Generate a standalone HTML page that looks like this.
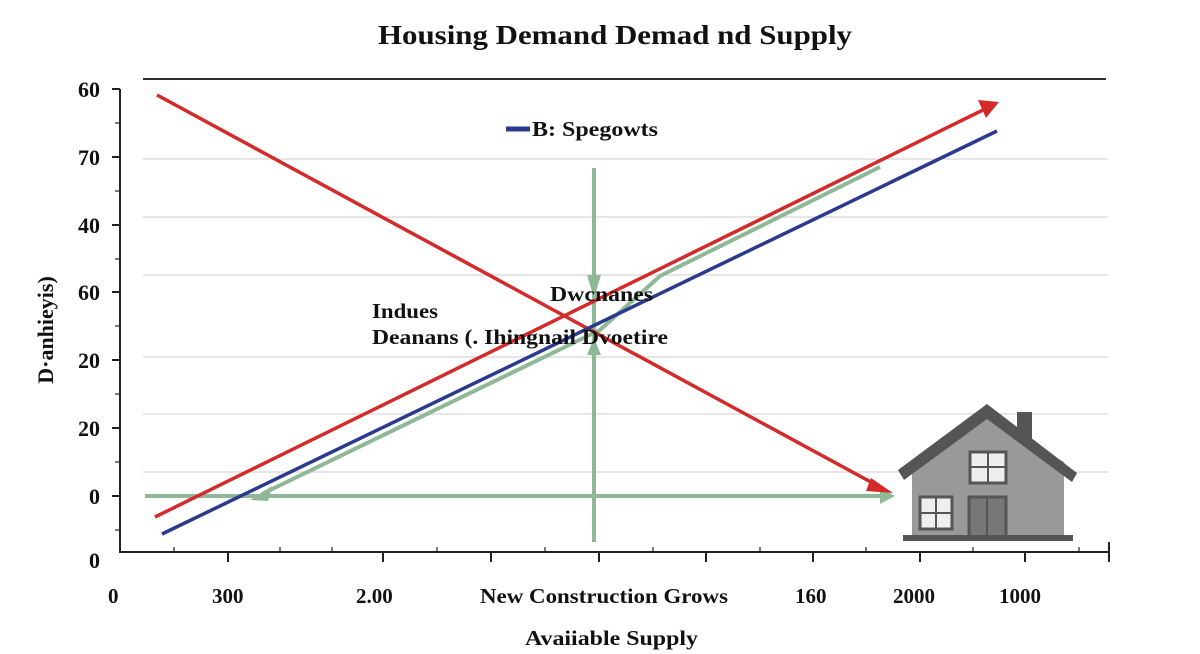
<!DOCTYPE html>
<html><head><meta charset="utf-8"><style>
html,body{margin:0;padding:0;background:#fff;}
svg{display:block;font-family:"Liberation Serif",serif;font-weight:bold;}
</style></head><body>
<svg width="1200" height="654" viewBox="0 0 1200 654" xmlns="http://www.w3.org/2000/svg">
<text x="378" y="44" font-size="27" textLength="474" lengthAdjust="spacingAndGlyphs" fill="#111">Housing Demand  Demad  nd Supply</text>
<line x1="143" y1="79" x2="1106" y2="79" stroke="#333" stroke-width="2"/>
<g stroke="#ddd" stroke-width="1.5">
<line x1="143" y1="159" x2="1108" y2="159"/><line x1="143" y1="217" x2="1108" y2="217"/>
<line x1="143" y1="275" x2="1108" y2="275"/><line x1="143" y1="357" x2="1108" y2="357"/>
<line x1="143" y1="414" x2="1108" y2="414"/><line x1="143" y1="472" x2="1108" y2="472"/>
</g>
<g stroke="#222" stroke-width="2">
<line x1="120" y1="89" x2="120" y2="553"/><line x1="119" y1="552" x2="1110" y2="552"/>
<line x1="112" y1="89" x2="120" y2="89"/><line x1="112" y1="157" x2="120" y2="157"/><line x1="112" y1="225" x2="120" y2="225"/><line x1="112" y1="292" x2="120" y2="292"/><line x1="112" y1="360" x2="120" y2="360"/><line x1="112" y1="428" x2="120" y2="428"/><line x1="112" y1="496" x2="120" y2="496"/>
<line x1="228" y1="552" x2="228" y2="562"/><line x1="383" y1="552" x2="383" y2="562"/><line x1="491" y1="552" x2="491" y2="562"/><line x1="599" y1="552" x2="599" y2="562"/><line x1="706" y1="552" x2="706" y2="562"/><line x1="813" y1="552" x2="813" y2="562"/><line x1="920" y1="552" x2="920" y2="562"/><line x1="1025" y1="552" x2="1025" y2="562"/><line x1="1109" y1="542" x2="1109" y2="562"/>
</g>
<g stroke="#222" stroke-width="1.2">
<line x1="115" y1="123" x2="120" y2="123"/><line x1="115" y1="191" x2="120" y2="191"/><line x1="115" y1="259" x2="120" y2="259"/><line x1="115" y1="326" x2="120" y2="326"/><line x1="115" y1="394" x2="120" y2="394"/><line x1="115" y1="462" x2="120" y2="462"/><line x1="115" y1="530" x2="120" y2="530"/>
<line x1="174" y1="547" x2="174" y2="552"/><line x1="280" y1="547" x2="280" y2="552"/><line x1="332" y1="547" x2="332" y2="552"/><line x1="437" y1="547" x2="437" y2="552"/><line x1="545" y1="547" x2="545" y2="552"/><line x1="653" y1="547" x2="653" y2="552"/><line x1="760" y1="547" x2="760" y2="552"/><line x1="866" y1="547" x2="866" y2="552"/><line x1="973" y1="547" x2="973" y2="552"/><line x1="1079" y1="547" x2="1079" y2="552"/>
</g>
<g font-size="22" text-anchor="end" fill="#111">
<text x="100" y="97">60</text><text x="100" y="165">70</text><text x="100" y="233">40</text><text x="100" y="300">60</text><text x="100" y="368">20</text><text x="100" y="436">20</text><text x="100" y="504">0</text><text x="100" y="568">0</text>
</g>
<text transform="translate(53,330) rotate(-90)" font-size="22" text-anchor="middle" fill="#111">D·anhieyis)</text>
<g font-size="21" fill="#111">
<text x="108" y="603">0</text><text x="212" y="603">300</text><text x="356" y="603">2.00</text>
<text x="480" y="603" textLength="248" lengthAdjust="spacingAndGlyphs">New Construction Grows</text>
<text x="795" y="603">160</text><text x="893" y="603">2000</text><text x="999" y="603">1000</text>
<text x="525" y="645" textLength="173" lengthAdjust="spacingAndGlyphs">Avaiiable Supply</text>
</g>
<!-- green -->
<g stroke="#8fb896" stroke-width="4" fill="none">
<line x1="145" y1="496" x2="880" y2="496"/>
<line x1="594" y1="168" x2="594" y2="542"/>
<polyline points="262,494 600,330 660,276 880,167"/>
</g>
<path d="M880,488 L895,496 L880,504z" fill="#8fb896"/>
<path d="M250,500 L272,486 L268,501z" fill="#8fb896"/>
<path d="M587,275 L594,298 L601,275z" fill="#8fb896"/>
<path d="M587,355 L594,338 L601,355z" fill="#8fb896"/>
<!-- lines -->
<line x1="157" y1="95" x2="880" y2="487" stroke="#d42a2a" stroke-width="3.5"/>
<path d="M871,478 L893,493 L866,491z" fill="#d42a2a"/>
<line x1="155" y1="517" x2="985" y2="109" stroke="#d42a2a" stroke-width="3.5"/>
<path d="M978,100 L999,102 L986,118z" fill="#d42a2a"/>
<line x1="162" y1="534" x2="997" y2="131" stroke="#2b3a8f" stroke-width="3.5"/>
<line x1="506" y1="129" x2="530" y2="129" stroke="#2b3a8f" stroke-width="5"/>
<g font-size="21" fill="#111">
<text x="532" y="136" textLength="126" lengthAdjust="spacingAndGlyphs">B: Spegowts</text>
<text x="550" y="301" textLength="103" lengthAdjust="spacingAndGlyphs">Dwcnanes</text>
<text x="372" y="318" textLength="66" lengthAdjust="spacingAndGlyphs">Indues</text>
<text x="372" y="344" textLength="296" lengthAdjust="spacingAndGlyphs">Deanans (. Ihingnail Dvoetire</text>
</g>
<!-- house -->
<g>
<rect x="912" y="462" width="152" height="76" fill="#999"/>
<path d="M912,462 L987,418 L1064,462z" fill="#999"/>
<rect x="1017" y="412" width="15" height="28" fill="#555"/>
<path d="M898,470 L987,404 L1077,473 L1072,482 L987,419 L904,480z" fill="#555"/>
<rect x="970" y="452" width="36" height="31" fill="#eee" stroke="#555" stroke-width="3"/>
<line x1="988" y1="452" x2="988" y2="483" stroke="#555" stroke-width="2"/><line x1="970" y1="467" x2="1006" y2="467" stroke="#555" stroke-width="2"/>
<rect x="920" y="497" width="32" height="32" fill="#eee" stroke="#555" stroke-width="3"/>
<line x1="936" y1="497" x2="936" y2="529" stroke="#555" stroke-width="2"/><line x1="920" y1="513" x2="952" y2="513" stroke="#555" stroke-width="2"/>
<rect x="969" y="497" width="37" height="41" fill="#777" stroke="#555" stroke-width="3"/>
<line x1="987" y1="497" x2="987" y2="538" stroke="#555" stroke-width="2"/>
<rect x="903" y="535" width="170" height="6" fill="#555"/>
</g>
</svg>
</body></html>
